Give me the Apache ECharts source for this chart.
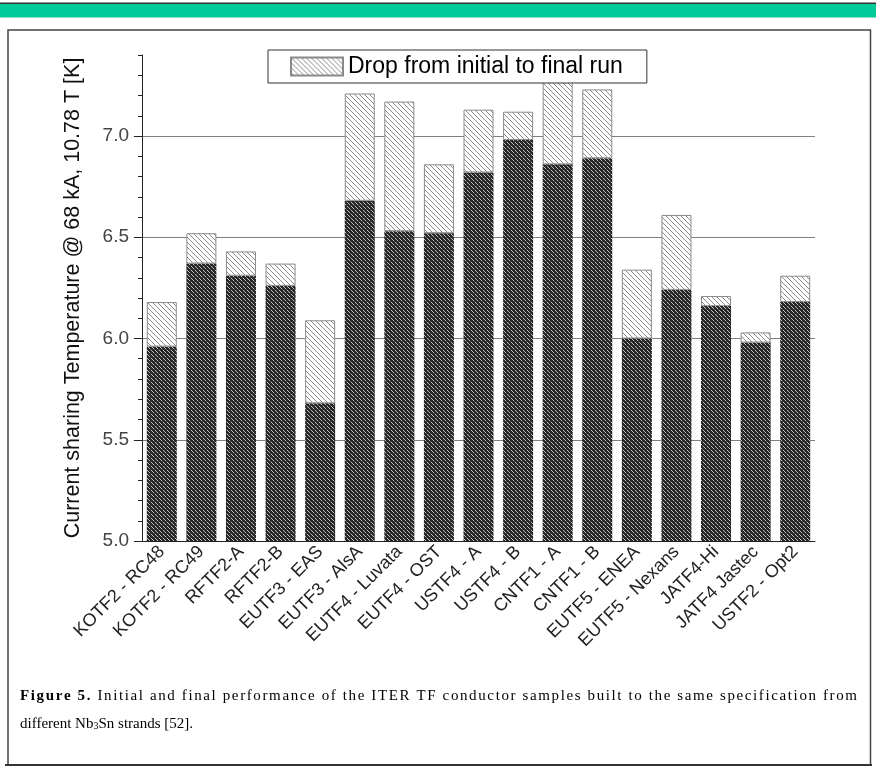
<!DOCTYPE html>
<html><head><meta charset="utf-8">
<script src="https://cdn.jsdelivr.net/npm/echarts@6/dist/echarts.min.js"></script>
<style>html,body{margin:0;padding:0;background:#fff}#c{width:876px;height:775px}</style>
</head><body><div id="c"></div>
<script>
// ---- data ----
const categories = ['KOTF2 - RC48','KOTF2 - RC49','RFTF2-A','RFTF2-B','EUTF3 - EAS','EUTF3 - AlsA','EUTF4 - Luvata','EUTF4 - OST','USTF4 - A','USTF4 - B','CNTF1 - A','CNTF1 - B','EUTF5 - ENEA','EUTF5 - Nexans','JATF4-Hi','JATF4 Jastec','USTF2 - Opt2'];
const finalValues   = [5.96, 6.37, 6.31, 6.26, 5.68, 6.68, 6.53, 6.52, 6.82, 6.98, 6.86, 6.89, 6.00, 6.24, 6.16, 5.98, 6.18];
const initialValues = [6.18, 6.52, 6.43, 6.37, 6.09, 7.21, 7.17, 6.86, 7.13, 7.12, 7.29, 7.23, 6.34, 6.61, 6.21, 6.03, 6.31];
const yMajorTicks = [5.0, 5.5, 6.0, 6.5, 7.0];
const yMin = 5.0, yMax = 7.4;
const legendLabel = 'Drop from initial to final run';
const yAxisTitle = 'Current sharing Temperature @ 68 kA, 10.78 T [K]';
const captionBold = 'Figure 5.';
const captionLine1 = ' Initial and final performance of the ITER TF conductor samples built to the same specification from';

const dropValues = initialValues.map((v, i) => +(v - finalValues[i]).toFixed(3));

// ---- patterns ----
function darkPattern() {
  const c = document.createElement('canvas'); c.width = 4; c.height = 4;
  const g = c.getContext('2d');
  g.fillStyle = '#262626'; g.fillRect(0, 0, 4, 4);
  g.fillStyle = '#c0c0c0';
  g.fillRect(1, 0, 1, 1); g.fillRect(3, 2, 1, 1); g.fillRect(0, 3, 1, 1);
  g.fillStyle = '#5a5a5a'; g.fillRect(2, 1, 1, 1);
  return c;
}
function lightPattern() {
  const c = document.createElement('canvas'); c.width = 5; c.height = 5;
  const g = c.getContext('2d');
  g.fillStyle = '#ffffff'; g.fillRect(0, 0, 5, 5);
  g.fillStyle = '#8c8c8c';
  for (let i = 0; i < 5; i++) g.fillRect(i, i, 1, 1);
  return c;
}

// ---- caption layout (line 1 justified by character spacing) ----
const serif = '"Liberation Serif","Times New Roman",serif';
const capSize = 15;
const mctx = document.createElement('canvas').getContext('2d');
function fontOf(bold) { return (bold ? 'bold ' : '') + capSize + 'px ' + serif; }
function mw(t, bold) { mctx.font = fontOf(bold); return mctx.measureText(t).width; }
const chars = captionBold.split('').map(c => [c, true]).concat(captionLine1.split('').map(c => [c, false]));
const capX0 = 20, capX1 = 857;
const totalW = chars.reduce((s, c) => s + mw(c[0], c[1]), 0);
const extra = (capX1 - capX0 - totalW) / (chars.length - 1);
const graphics = [];
let cx = capX0;
chars.forEach(c => {
  if (c[0] !== ' ') {
    graphics.push({ type: 'text', x: cx, y: 696, style: { text: c[0], font: fontOf(c[1]), fill: '#000', verticalAlign: 'middle', align: 'left' } });
  }
  cx += mw(c[0], c[1]) + extra;
});
graphics.push({ type: 'text', x: capX0, y: 723, style: {
  text: '{n|different Nb}{s|3}{n|Sn strands [52].}',
  verticalAlign: 'middle', align: 'left',
  rich: { n: { fontSize: capSize, fontFamily: serif, fill: '#000', lineHeight: 17, verticalAlign: 'bottom' },
          s: { fontSize: 10, fontFamily: serif, fill: '#000', lineHeight: 17, verticalAlign: 'bottom' } } } });
// frame and top band
graphics.push({ type: 'rect', shape: { x: 0, y: 2.5, width: 876, height: 1.5 }, style: { fill: '#333' }, z: 0 });
graphics.push({ type: 'rect', shape: { x: 0, y: 4, width: 876, height: 13.5 }, style: { fill: '#00c99a' }, z: 0 });
graphics.push({ type: 'rect', shape: { x: 8, y: 30, width: 862.5, height: 735 }, style: { fill: 'none', stroke: '#444', lineWidth: 1.5 }, z: 0 });
graphics.push({ type: 'line', shape: { x1: 5, y1: 765, x2: 872, y2: 765 }, style: { stroke: '#333', lineWidth: 2 }, z: 0 });

const isMajor = v => Math.abs(v * 2 - Math.round(v * 2)) < 1e-6;

const chart = echarts.init(document.getElementById('c'), null, { renderer: 'canvas' });
chart.setOption({
  animation: false,
  backgroundColor: '#fff',
  textStyle: { fontFamily: '"Liberation Sans", Arial, sans-serif' },
  grid: { left: 142, right: 61, top: 55, bottom: 234, containLabel: false },
  legend: {
    data: [legendLabel], left: 268, top: 50, icon: 'rect',
    itemWidth: 52, itemHeight: 18, padding: [5, 24, 5, 22],
    borderColor: '#333', borderWidth: 1, backgroundColor: '#fff', borderRadius: 0,
    textStyle: { fontSize: 23, color: '#000' }, z: 10
  },
  xAxis: {
    type: 'category', data: categories,
    axisLine: { lineStyle: { color: '#222', width: 1 } },
    axisTick: { show: false },
    axisLabel: { interval: 0, rotate: 45, fontSize: 18, color: '#222', margin: 8 }
  },
  yAxis: [{
    type: 'value', min: yMin, max: yMax, interval: 0.1,
    name: yAxisTitle, nameLocation: 'middle', nameGap: 58,
    nameTextStyle: { fontSize: 21.5, color: '#111' },
    axisLine: { show: true, lineStyle: { color: '#222', width: 1 } },
    axisTick: { show: true, length: 4, lineStyle: { color: '#222' } },
    axisLabel: { formatter: v => isMajor(v) ? v.toFixed(1) : '', fontSize: 19, color: '#444', margin: 13 },
    splitLine: { show: true, lineStyle: { color: ['#808080', 'transparent', 'transparent', 'transparent', 'transparent'], width: 1 } }
  }, {
    type: 'value', min: yMin, max: yMax, interval: 0.5, position: 'left',
    axisLine: { show: false },
    axisTick: { show: true, length: 8, customValues: yMajorTicks, lineStyle: { color: '#222' } },
    axisLabel: { show: false },
    splitLine: { show: false }
  }],
  series: [{
    name: 'Final run', type: 'bar', stack: 'run', barWidth: 30,
    data: finalValues,
    itemStyle: { color: { image: darkPattern(), repeat: 'repeat' } }
  }, {
    name: legendLabel, type: 'bar', stack: 'run', barWidth: 30,
    data: dropValues,
    itemStyle: { color: { image: lightPattern(), repeat: 'repeat' }, borderColor: '#8a8a8a', borderWidth: 1 }
  }],
  graphic: graphics
});
</script></body></html>
